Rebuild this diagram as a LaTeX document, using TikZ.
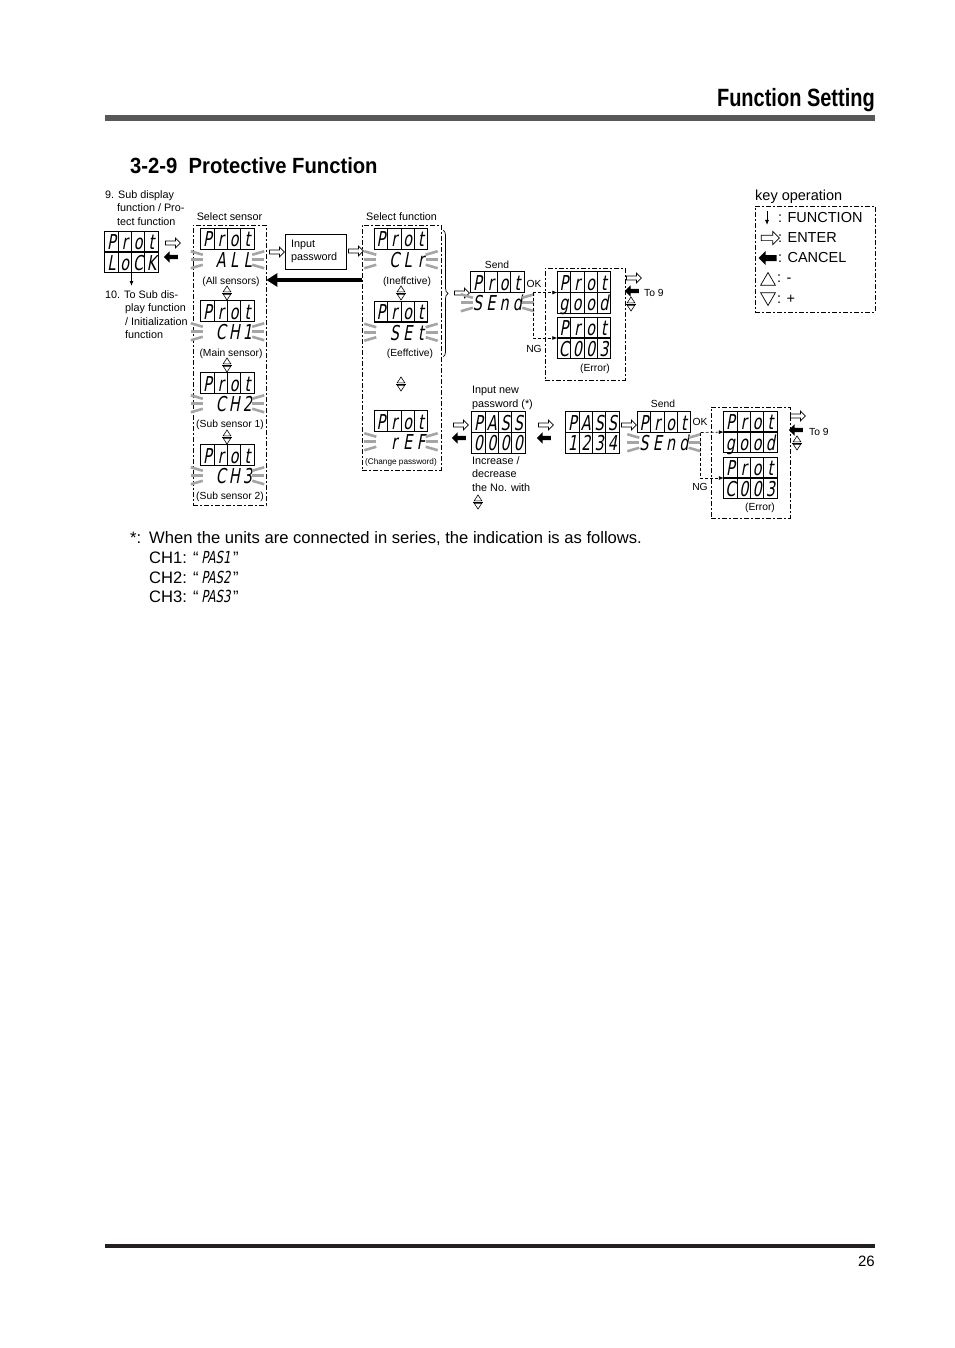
\documentclass[tikz,border=0pt]{standalone}
\usepackage{fontspec}
\setmainfont{Liberation Sans}
\newfontfamily\headfont[FakeStretch=0.8]{Liberation Sans}
\newfontfamily\titlefont[FakeStretch=0.92]{Liberation Sans}
\newfontfamily\segfont[FakeSlant=0.18,FakeStretch=0.7]{DejaVu Sans}
\usetikzlibrary{shapes.arrows, shapes.geometric, arrows.meta, positioning, calc, decorations.pathreplacing}
\definecolor{bargray}{RGB}{88, 88, 88}
\definecolor{flashgray}{RGB}{165, 165, 165}
\definecolor{rulegray}{RGB}{35, 31, 32}

% one LED display: name, centre, top row, bottom row, flashing (1) or not (0)
\newcommand{\segdisp}[5]{%
  \node[segbox] (#1) at (#2) {};
  \draw[cellline] (#1.north west) rectangle (#1.east);
  \foreach \k in {1,2,3}
    \draw[cellline] ($(#1.north west)!{\k/4}!(#1.north east)$) -- ($(#1.west)!{\k/4}!(#1.east)$);
  \foreach \c [count=\k] in {#3}
    \node[segchar] (#1t\k) at ($(#1.west)!{(\k-0.5)/4}!(#1.east)+(0,-2.5)$) {\c};
  \foreach \c [count=\k] in {#4}
    \node[segchar] (#1b\k) at ($(#1.south west)!{(\k-0.5)/4}!(#1.south east)+(0,-2.5)$) {\c};
  \ifnum#5=0
    \draw[cellline] (#1.west) rectangle (#1.south east);
    \foreach \k in {1,2,3}
      \draw[cellline] ($(#1.west)!{\k/4}!(#1.east)$) -- ($(#1.south west)!{\k/4}!(#1.south east)$);
  \else
    \foreach \s in {-1,0,1} {
      \draw[flashmark] ($(#1.west)+(-10,10.25+8.5*\s)$) -- ($(#1.west)+(2,10.25+5*\s)$);
      \draw[flashmark] ($(#1.east)+(10,10.25+8.5*\s)$) -- ($(#1.east)+(-2,10.25+5*\s)$);
    }
  \fi
  \draw[midline] (#1.west) -- (#1.east);
}

\begin{document}
\begin{tikzpicture}[x=1pt, y=-1pt,
  segbox/.style={minimum width=53pt, minimum height=41pt, inner sep=0pt},
  segchar/.style={font=\segfont\fontsize{20.5}{20.5}\selectfont, inner sep=0pt, anchor=base},
  cellline/.style={line width=0.8pt},
  midline/.style={line width=1.8pt},
  flashmark/.style={flashgray, line width=2.6pt},
  grpbox/.style={draw, line width=0.7pt, dash pattern=on 5pt off 2pt on 2pt off 2pt, inner sep=0pt},
  lbl/.style={font=\fontsize{10.8}{13.5}\selectfont, inner sep=0pt, align=left},
  sublbl/.style={font=\fontsize{10.3}{12}\selectfont, inner sep=0pt, anchor=base},
  enterarr/.style={single arrow, draw, fill=white, line width=0.7pt, inner sep=1.6pt, single arrow head extend=3pt, minimum height=15pt},
  cancelarr/.style={single arrow, fill=black, inner sep=2pt, single arrow head extend=3.5pt, minimum height=14pt, rotate=180},
  bigarr/.style={minimum height=18pt, inner sep=2.3pt, single arrow head extend=4pt},
  fnarr/.style={-{Latex[length=5pt,width=4pt]}, line width=0.8pt},
  okline/.style={-{Latex[length=5pt,width=4pt]}, line width=0.7pt, dash pattern=on 3pt off 2pt},
  keytxt/.style={font=\fontsize{14.5}{17}\selectfont, inner sep=0pt, anchor=west},
  foot/.style={font=\fontsize{16.6}{20}\selectfont, inner sep=0pt, anchor=base west},
  updown/.pic={
    \draw[line width=0.6pt] (0,-7) -- (-3.8,-1.2) -- (3.8,-1.2) -- cycle;
    \draw[line width=0.6pt] (0,7) -- (-3.8,1.2) -- (3.8,1.2) -- cycle;
    \draw[line width=0.6pt] (-4.6,0) -- (4.6,0);
  }
]
  \useasboundingbox (0,0) rectangle (954,1348);

  % page head and foot
  \node[anchor=base east, inner sep=0pt, font=\headfont\bfseries\fontsize{25}{30}\selectfont] (head) at (875,107) {Function Setting};
  \fill[bargray] (105,115) rectangle (875,121);
  \node[anchor=base west, inner sep=0pt, font=\titlefont\bfseries\fontsize{22}{26}\selectfont] (title) at (130,174) {3-2-9\ \ Protective Function};
  \fill[rulegray] (105,1244) rectangle (875,1248);
  \node[anchor=base east, inner sep=0pt, font=\fontsize{15}{18}\selectfont] (page) at (875,1266) {26};

  % groups
  \node[grpbox, minimum width=73pt, minimum height=280pt] (selsens) at (229.5,365) {};
  \node[grpbox, minimum width=79pt, minimum height=245pt] (selfun) at (401.5,347.5) {};
  \node[grpbox, minimum width=80pt, minimum height=112pt] (resA) at (585,324) {};
  \node[grpbox, minimum width=79pt, minimum height=111pt] (resB) at (750.5,462.5) {};
  \node[lbl, above=4pt of selsens] (selsensl) {Select sensor};
  \node[lbl, above=4pt of selfun] (selfunl) {Select function};

  % start display
  \segdisp{lock}{131.5,252}{P,r,o,t}{L,o,C,K}{0}
  \node[lbl, anchor=north west] (lab9) at (105,190) {9. Sub display\\\hspace*{12pt}function / Pro-\\\hspace*{12pt}tect function};
  \coordinate (lockdn) at (131.5,286);
  \draw[fnarr] (lock.south) -- (lockdn);
  \node[lbl, anchor=north west] (lab10) at (105,290) {10. To Sub dis-\\\hspace*{20pt}play function\\\hspace*{20pt}/ Initialization\\\hspace*{20pt}function};
  \node[enterarr] (e1) at (172,243) {};
  \node[cancelarr] (c1) at (172,257) {};

  % sensor choice
  \segdisp{all}{227.5,249.5}{P,r,o,t}{ ,A,L,L}{1}
  \segdisp{chA}{227.5,321.5}{P,r,o,t}{ ,C,H,1}{1}
  \segdisp{chB}{227.5,393.5}{P,r,o,t}{ ,C,H,2}{1}
  \segdisp{chC}{227.5,465.5}{P,r,o,t}{ ,C,H,3}{1}
  \node[sublbl] (alll) at (231,284) {(All sensors)};
  \node[sublbl] (chAl) at (231,356) {(Main sensor)};
  \node[sublbl] (chBl) at (230,427) {(Sub sensor 1)};
  \node[sublbl] (chCl) at (230,499) {(Sub sensor 2)};
  \pic at (227,293) {updown};
  \pic at (227,365) {updown};
  \pic at (227,437) {updown};

  % password
  \node[draw, line width=0.7pt, minimum height=35pt, text width=49pt, inner xsep=6pt, inner ysep=0pt, align=left, font=\fontsize{10.8}{13.5}\selectfont] (inpw) at (315.5,251.5) {Input\\password};
  \node[enterarr] (e2) at (276,252) {};
  \node[enterarr] (e3) at (355,251) {};
  \coordinate (back) at (300,280);
  \draw[line width=4.5pt, -{Triangle[length=11pt,width=13pt]}] (selfun.west |- back) -- (selsens.east |- back);

  % function choice
  \segdisp{clr}{401,249.5}{P,r,o,t}{ ,C,L,r}{1}
  \segdisp{set}{401,322}{P,r,o,t}{ ,S,E,t}{1}
  \segdisp{ref}{401,431.5}{P,r,o,t}{ ,r,E,F}{1}
  \node[sublbl] (clrl) at (407,284) {(Ineffctive)};
  \node[sublbl] (setl) at (410,356) {(Eeffctive)};
  \node[sublbl, font=\fontsize{8.2}{10}\selectfont] (refl) at (401,464) {(Change password)};
  \pic at (401,293) {updown};
  \pic at (401,384) {updown};
  \draw[decorate, decoration={brace, amplitude=5pt}, line width=0.7pt] (443,230) -- (443,357);

  % send the setting
  \node[enterarr] (e4) at (461,293) {};
  \segdisp{sendA}{497.5,292.5}{P,r,o,t}{S,E,n,d}{1}
  \segdisp{goodA}{584,292.5}{P,r,o,t}{g,o,o,d}{0}
  \segdisp{errA}{584,338}{P,r,o,t}{C,0,0,3}{0}
  \node[sublbl] (sendAl) at (497,269) {Send};
  \coordinate (okA) at ($(sendA.east)+(9,0)$);
  \draw[okline] (okA) -- (goodA.west);
  \draw[okline] (okA) |- (errA.west);
  \node[sublbl] (okAl) at (534,287) {OK};
  \node[sublbl] (ngAl) at (534,352) {NG};
  \node[sublbl] (errAl) at (595,371) {(Error)};
  \node[enterarr] (e5) at (633,278) {};
  \node[cancelarr] (c5) at (633,291) {};
  \node[sublbl, anchor=base west] (toA) at (644,296) {To 9};
  \pic at (631,304) {updown};

  % new password
  \node[enterarr] (e6) at (460,425) {};
  \node[cancelarr] (c6) at (460,438) {};
  \segdisp{passA}{498.5,432.5}{P,A,S,S}{0,0,0,0}{0}
  \node[lbl, anchor=north west] (passAl) at (472,386) {Input new\\password (*)};
  \node[lbl, anchor=north west] (passAn) at (472,456) {Increase /\\decrease\\the No. with};
  \pic at (478,502) {updown};
  \node[enterarr] (e7) at (545,425) {};
  \node[cancelarr] (c7) at (545,438) {};
  \segdisp{passB}{592.5,432.5}{P,A,S,S}{1,2,3,4}{0}
  \node[enterarr] (e8) at (628,425) {};
  \segdisp{sendB}{664,432.5}{P,r,o,t}{S,E,n,d}{1}
  \segdisp{goodB}{750.5,432}{P,r,o,t}{g,o,o,d}{0}
  \segdisp{errB}{750.5,478}{P,r,o,t}{C,0,0,3}{0}
  \node[sublbl] (sendBl) at (663,407) {Send};
  \coordinate (okB) at ($(sendB.east)+(10,0)$);
  \draw[okline] (okB) -- (goodB.west);
  \draw[okline] (okB) |- (errB.west);
  \node[sublbl] (okBl) at (700,425) {OK};
  \node[sublbl] (ngBl) at (700,490) {NG};
  \node[sublbl] (errBl) at (760,510) {(Error)};
  \node[enterarr] (e9) at (797,416) {};
  \node[cancelarr] (c9) at (797,430) {};
  \node[sublbl, anchor=base west] (toB) at (809,435) {To 9};
  \pic at (797,443) {updown};

  % key operation
  \node[grpbox, minimum width=120pt, minimum height=106pt] (keys) at (815,259) {};
  \node[keytxt, anchor=base west] (keysl) at (755,201) {key operation};
  \coordinate (kf0) at (767,211);
  \coordinate (kf1) at (767,225);
  \draw[fnarr] (kf0) -- (kf1);
  \node[keytxt] (kfun) at (778,218) {: FUNCTION};
  \node[enterarr, bigarr] (kent) at (769,238) {};
  \node[keytxt] (kentl) at (778,238) {: ENTER};
  \node[cancelarr, bigarr, inner sep=2.8pt] (kcan) at (769,258) {};
  \node[keytxt] (kcanl) at (778,258) {: CANCEL};
  \node[regular polygon, regular polygon sides=3, draw, line width=0.7pt, minimum size=17pt, inner sep=0pt] (kup) at (768,281) {};
  \node[keytxt] (kupl) at (777,279) {: -};
  \node[regular polygon, regular polygon sides=3, draw, line width=0.7pt, minimum size=17pt, inner sep=0pt, rotate=180] (kdn) at (768,297) {};
  \node[keytxt] (kdnl) at (777,299) {: +};

  % footnote
  \node[foot] (fstar) at (130,543) {*:};
  \node[foot] (fnote) at (149,543) {When the units are connected in series, the indication is as follows.};
  \node[foot] (fch1) at (149,563) {CH1: “\,{\segfont PAS1}\,”};
  \node[foot] (fch2) at (149,583) {CH2: “\,{\segfont PAS2}\,”};
  \node[foot] (fch3) at (149,602) {CH3: “\,{\segfont PAS3}\,”};
\end{tikzpicture}
\end{document}
